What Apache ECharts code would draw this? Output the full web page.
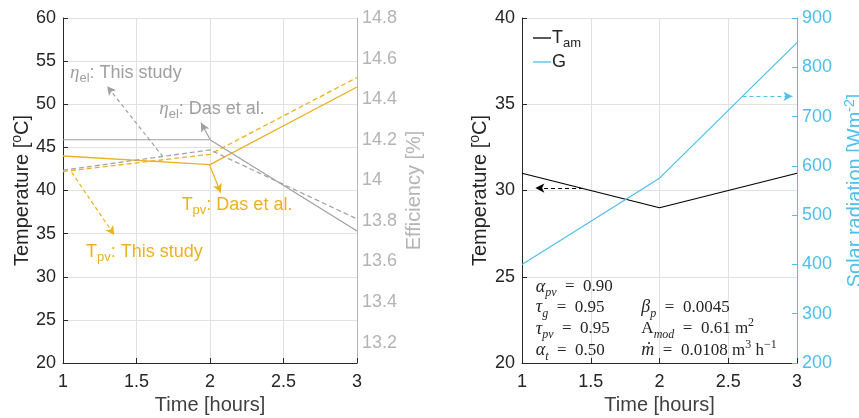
<!DOCTYPE html>
<html>
<head>
<meta charset="utf-8">
<script src="https://cdn.jsdelivr.net/npm/echarts@6/dist/echarts.min.js"></script>
<style>
html, body { margin: 0; padding: 0; background: #fff; }
#main { width: 859px; height: 418px; }
</style>
</head>
<body>
<div id="main"></div>
<script>
// data
var time = [1, 2, 3];
var tpvDas = [44, 43, 52];
var tpvThis = [42.2, 44.2, 53.1];
var effDas = [14.2, 14.2, 13.75];
var effThis = [14.05, 14.15, 13.81];
var tAm = [31, 29, 31];
var solarG = [400, 575, 850];

var ORANGE = '#EDB120', GRAY = '#A0A0A0', EFF = '#B4B4B4', BLUE = '#4DBEEE';
var DARK = '#262626', GRID = '#E1E1E1';
var SANS = '"Liberation Sans", Arial, sans-serif';
var SERIF = '"Liberation Serif", "DejaVu Serif", serif';

function pairs(ys) {
	return time.map(function(t, i) { return [t, ys[i]]; });
}

// rich text styles for sub/superscripts
var sansRich = {
	n: { fontFamily: SANS, fontSize: 18, lineHeight: 24 },
	g: { fontFamily: SERIF, fontStyle: 'italic', fontSize: 19, lineHeight: 24 },
	sub: { fontFamily: SANS, fontSize: 13, lineHeight: 12, verticalAlign: 'bottom' },
	sup: { fontFamily: SANS, fontSize: 13, lineHeight: 12, verticalAlign: 'top' }
};
var nameRich = {
	n: { fontFamily: SANS, fontSize: 20, lineHeight: 24 },
	sup: { fontFamily: SANS, fontSize: 14, lineHeight: 12, verticalAlign: 'top' }
};
var mathRich = {
	i: { fontFamily: SERIF, fontStyle: 'italic', fontSize: 18, lineHeight: 24 },
	n: { fontFamily: SERIF, fontSize: 17, lineHeight: 24 },
	si: { fontFamily: SERIF, fontStyle: 'italic', fontSize: 12, lineHeight: 12, verticalAlign: 'bottom' },
	sp: { fontFamily: SERIF, fontSize: 12, lineHeight: 12, verticalAlign: 'top' }
};

function xAx(gi) {
	return {
		type: 'value', gridIndex: gi, min: 1, max: 3, interval: 0.5,
		axisLine: { onZero: false, lineStyle: { color: DARK } },
		axisTick: { inside: true, length: 5, lineStyle: { color: DARK } },
		axisLabel: { color: DARK, fontSize: 18, fontFamily: SANS, margin: 10 },
		splitLine: { show: true, lineStyle: { color: GRID } },
		name: 'Time [hours]', nameLocation: 'middle', nameGap: 32,
		nameTextStyle: { color: '#404040', fontSize: 20, fontFamily: SANS }
	};
}

function yAx(gi, min, max, interval, color, name, gap, right) {
	return {
		type: 'value', gridIndex: gi, min: min, max: max, interval: interval,
		position: right ? 'right' : 'left',
		axisLine: { show: true, onZero: false, lineStyle: { color: color } },
		axisTick: { show: true, inside: true, length: 5, lineStyle: { color: color } },
		axisLabel: { color: color, fontSize: 18, fontFamily: SANS, margin: right ? 5 : 7 },
		splitLine: { show: !right, lineStyle: { color: GRID } },
		name: name, nameLocation: 'middle', nameGap: gap,
		nameTextStyle: { color: color, fontSize: 20, fontFamily: SANS, rich: nameRich }
	};
}

var effAxis = yAx(0, 13.1, 14.8, 0.1, EFF, '{n|Efficiency [%]}', 45, true);
effAxis.axisTick.show = false;
effAxis.axisLabel.formatter = function(v) {
	var k = Math.round(v * 10);
	return k % 2 === 0 ? String(k / 10) : '';
};

function txt(x, y, fmt, color, rich) {
	return {
		coord: [x, y],
		label: { formatter: fmt, color: color, rich: rich }
	};
}

function arrow(x1, y1, x2, y2, color, type) {
	return [
		{ coord: [x1, y1], lineStyle: { color: color, type: type, width: 1.2 }, itemStyle: { color: color } },
		{ coord: [x2, y2] }
	];
}

var markText = {
	symbol: 'circle', symbolSize: 0,
	itemStyle: { color: 'rgba(0,0,0,0)' },
	label: { show: true, position: [0, 0], align: 'left', verticalAlign: 'middle' }
};

var markArrows = {
	symbol: ['none', 'arrow'], symbolSize: [7, 9],
	label: { show: false },
	emphasis: { disabled: true }
};

var chart = echarts.init(document.getElementById('main'));
chart.setOption({
	animation: false,
	backgroundColor: '#fff',
	textStyle: { fontFamily: SANS },
	grid: [
		{ left: 63, top: 18, width: 294, height: 345, outerBoundsMode: 'none' },
		{ left: 522, top: 18, width: 275, height: 345, outerBoundsMode: 'none' }
	],
	legend: {
		data: ['Tam', 'G'],
		orient: 'vertical', left: 528, top: 24,
		icon: 'rect', itemWidth: 18, itemHeight: 1.3, itemGap: 3,
		textStyle: { color: DARK, fontSize: 18, padding: [0, 0, 0, -4], rich: sansRich },
		formatter: function(name) {
			return name === 'Tam' ? '{n|T}{sub|am}' : '{n|G}';
		}
	},
	xAxis: [xAx(0), xAx(1)],
	yAxis: [
		yAx(0, 20, 60, 5, DARK, '{n|Temperature [}{sup|o}{n|C]}', 29, false),
		effAxis,
		yAx(1, 20, 40, 5, DARK, '{n|Temperature [}{sup|o}{n|C]}', 30, false),
		yAx(1, 200, 900, 100, BLUE, '{n|Solar radiation [Wm}{sup|-2}{n|]}', 46, true)
	],
	series: [
		{
			name: 'TpvDas', type: 'line', xAxisIndex: 0, yAxisIndex: 0,
			data: pairs(tpvDas), symbol: 'none',
			lineStyle: { color: ORANGE, width: 1.3 }, itemStyle: { color: ORANGE },
			markLine: Object.assign({}, markArrows, {
				data: [
					arrow(1.68, 43.9, 1.30, 52.1, GRAY, [4, 3]),
					arrow(2.0, 45.94, 1.939, 47.86, GRAY, 'solid'),
					arrow(1.995, 43.04, 2.073, 39.74, ORANGE, 'solid'),
					arrow(1.059, 42.1, 1.349, 34.84, ORANGE, [4, 3])
				]
			}),
			markPoint: Object.assign({}, markText, {
				data: [
					txt(1.048, 53.66, '{g|η}{sub|el}{n|: This study}', GRAY, sansRich),
					txt(1.655, 49.5, '{g|η}{sub|el}{n|: Das et al.}', GRAY, sansRich),
					txt(1.807, 38.3, '{n|T}{sub|pv}{n|: Das et al.}', ORANGE, sansRich),
					txt(1.156, 32.9, '{n|T}{sub|pv}{n|: This study}', ORANGE, sansRich)
				]
			})
		},
		{
			name: 'TpvThis', type: 'line', xAxisIndex: 0, yAxisIndex: 0,
			data: pairs(tpvThis), symbol: 'none',
			lineStyle: { color: ORANGE, width: 1.3, type: [5, 3] }, itemStyle: { color: ORANGE }
		},
		{
			name: 'EffDas', type: 'line', xAxisIndex: 0, yAxisIndex: 1,
			data: pairs(effDas), symbol: 'none',
			lineStyle: { color: GRAY, width: 1.2 }, itemStyle: { color: GRAY }
		},
		{
			name: 'EffThis', type: 'line', xAxisIndex: 0, yAxisIndex: 1,
			data: pairs(effThis), symbol: 'none',
			lineStyle: { color: GRAY, width: 1.2, type: [5, 3] }, itemStyle: { color: GRAY }
		},
		{
			name: 'Tam', type: 'line', xAxisIndex: 1, yAxisIndex: 2,
			data: pairs(tAm), symbol: 'none',
			lineStyle: { color: '#000', width: 1.2 }, itemStyle: { color: '#000' },
			markLine: Object.assign({}, markArrows, {
				data: [arrow(1.444, 30.14, 1.097, 30.14, '#000', [4, 3])]
			}),
			markPoint: Object.assign({}, markText, {
				data: [
					txt(1.10, 24.41, '{i|α}{si|pv}{n|  =  0.90}', DARK, mathRich),
					txt(1.10, 23.21, '{i|τ}{si|g}{n|  =  0.95}', DARK, mathRich),
					txt(1.10, 21.98, '{i|τ}{si|pv}{n|  =  0.95}', DARK, mathRich),
					txt(1.10, 20.72, '{i|α}{si|t}{n|  =  0.50}', DARK, mathRich),
					txt(1.868, 23.21, '{i|β}{si|p}{n|  =  0.0045}', DARK, mathRich),
					txt(1.868, 21.98, '{n|A}{si|mod}{n|  =  0.61 m}{sp|2}', DARK, mathRich),
					txt(1.868, 20.72, '{i|ṁ}{n|  =  0.0108 m}{sp|3}{n| h}{sp|−1}', DARK, mathRich)
				]
			})
		},
		{
			name: 'G', type: 'line', xAxisIndex: 1, yAxisIndex: 3,
			data: pairs(solarG), symbol: 'none',
			lineStyle: { color: BLUE, width: 1.2 }, itemStyle: { color: BLUE },
			markLine: Object.assign({}, markArrows, {
				data: [arrow(2.603, 741, 2.967, 741, BLUE, [4, 3])]
			})
		}
	]
});
</script>
</body>
</html>
